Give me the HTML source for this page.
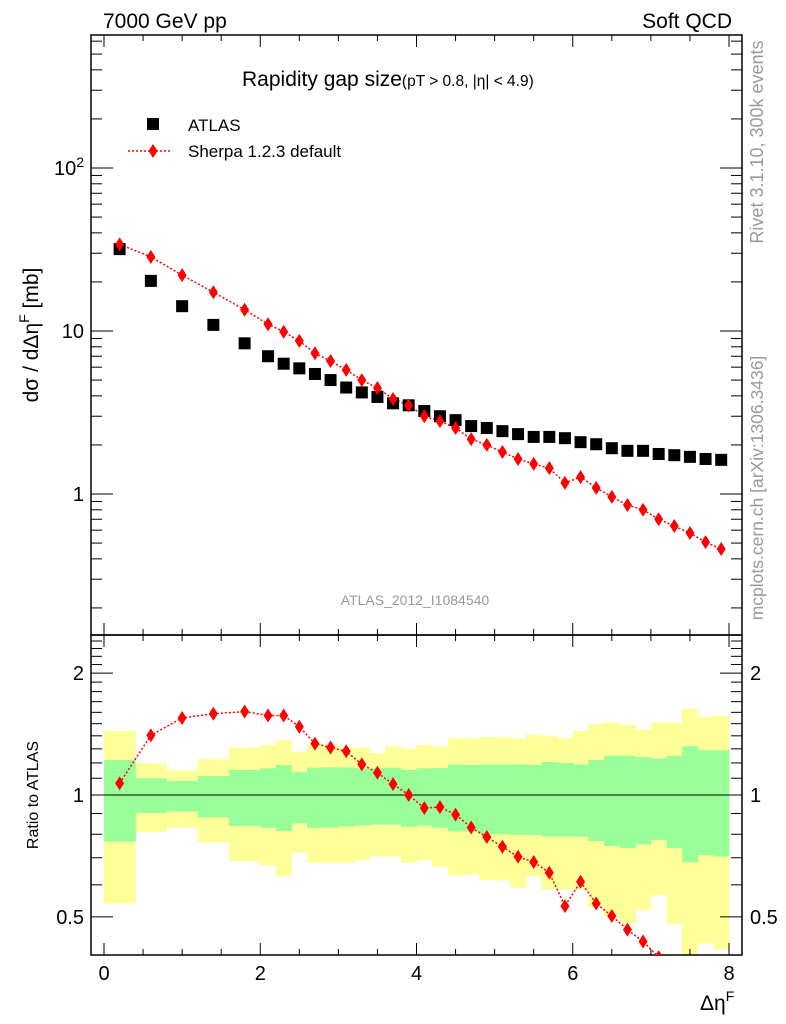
<!DOCTYPE html>
<html><head><meta charset="utf-8"><style>
body{margin:0;background:#fff;}
svg{display:block;font-family:"Liberation Sans",sans-serif;}
</style></head><body>
<svg id="c" width="786" height="1024" viewBox="0 0 786 1024"></svg>
<script>
const binEdges=[0,0.4,0.8,1.2,1.6,2.0,2.2,2.4,2.6,2.8,3.0,3.2,3.4,3.6,3.8,4.0,4.2,4.4,4.6,4.8,5.0,5.2,5.4,5.6,5.8,6.0,6.2,6.4,6.6,6.8,7.0,7.2,7.4,7.6,7.8,8.0];
const atlasVals=[31.8,20.3,14.2,10.9,8.4,7.0,6.3,5.9,5.45,5.0,4.5,4.2,3.94,3.6,3.5,3.23,3.0,2.84,2.61,2.54,2.43,2.33,2.24,2.24,2.2,2.08,2.02,1.91,1.84,1.84,1.76,1.73,1.69,1.64,1.62];
const sherpaVals=[34,28.5,22,17.3,13.5,11,9.9,8.7,7.3,6.55,5.77,5.0,4.47,3.83,3.5,3.0,2.8,2.54,2.17,2.0,1.81,1.64,1.53,1.44,1.17,1.27,1.09,0.96,0.856,0.8,0.70,0.636,0.576,0.507,0.46];
const greenUp=[1.22,1.10,1.083,1.114,1.153,1.164,1.186,1.14,1.168,1.17,1.17,1.164,1.164,1.168,1.153,1.164,1.166,1.19,1.186,1.19,1.19,1.19,1.186,1.206,1.2,1.19,1.22,1.25,1.25,1.24,1.23,1.25,1.32,1.29,1.29];
const greenDn=[0.767,0.903,0.91,0.88,0.838,0.83,0.815,0.851,0.83,0.83,0.835,0.84,0.845,0.845,0.835,0.84,0.83,0.813,0.812,0.80,0.80,0.797,0.797,0.789,0.789,0.789,0.77,0.748,0.74,0.755,0.775,0.74,0.682,0.71,0.705];
const yellowUp=[1.439,1.197,1.15,1.227,1.31,1.33,1.367,1.28,1.34,1.33,1.31,1.31,1.27,1.32,1.30,1.33,1.32,1.383,1.38,1.39,1.39,1.38,1.41,1.40,1.38,1.44,1.497,1.51,1.49,1.45,1.51,1.51,1.633,1.56,1.57];
const yellowDn=[0.54,0.81,0.83,0.763,0.686,0.67,0.632,0.72,0.68,0.68,0.68,0.69,0.705,0.705,0.68,0.69,0.665,0.632,0.636,0.617,0.615,0.59,0.63,0.585,0.585,0.585,0.528,0.5,0.48,0.52,0.565,0.48,0.3,0.43,0.415];

const NS="http://www.w3.org/2000/svg";
const svg=document.getElementById('c');
function el(tag,attrs,parent){const e=document.createElementNS(NS,tag);for(const k in attrs)e.setAttribute(k,attrs[k]);(parent||svg).appendChild(e);return e;}
const L=91,R=742,T=35,MB=635,RT=635,RB=955;
const X=v=>104+v*(729-104)/8;
const YM=v=>494-163*Math.log10(v);
const YR=v=>795-405*Math.log10(v);
const cx=i=>(binEdges[i]+binEdges[i+1])/2;

const gBand=el('g',{});


const clip=el('clipPath',{id:'rc'});el('rect',{x:L,y:RT,width:R-L,height:RB-RT},clip);
gBand.setAttribute('clip-path','url(#rc)');
for(let i=0;i<atlasVals.length;i++){
  const x0=X(binEdges[i]),x1=X(binEdges[i+1]);
  const y=el('rect',{x:x0,y:YR(yellowUp[i]),width:x1-x0+0.5,height:YR(yellowDn[i])-YR(yellowUp[i]),fill:'#ffff99'},gBand);
  
  
}
for(let i=0;i<atlasVals.length;i++){
  const x0=X(binEdges[i]),x1=X(binEdges[i+1]);
  const g=el('rect',{x:x0,y:YR(greenUp[i]),width:x1-x0+0.5,height:YR(greenDn[i])-YR(greenUp[i]),fill:'#99ff99'},gBand);
  
  
}
const one=el('line',{x1:L,x2:R,y1:YR(1),y2:YR(1),stroke:'#000','stroke-width':1});



const f1=el('rect',{x:L,y:T,width:R-L,height:MB-T,fill:'none',stroke:'#000','stroke-width':1.5});


const f2=el('rect',{x:L,y:RT,width:R-L,height:RB-RT,fill:'none',stroke:'#000','stroke-width':1.5});



for(let v=0;v<=8.001;v+=0.5){
  const maj=Math.abs(v-Math.round(v/2)*2)<1e-6, len=maj?12:6, x=X(v);
  [[T,1],[MB,-1],[RT,1],[RB,-1]].forEach(([y,d])=>el('line',{x1:x,x2:x,y1:y,y2:y+d*len,stroke:'#000'}));
  if(maj){const t=el('text',{x:x,y:980,'font-size':20,'text-anchor':'middle'});t.textContent=String(v);
    
    }
}
for(let d=-1;d<=2;d++)for(let m=1;m<=9;m++){
  const v=m*Math.pow(10,d);const y=YM(v);if(y<T||y>MB)continue;
  const len=m==1?22:11;
  el('line',{x1:L,x2:L+len,y1:y,y2:y,stroke:'#000'});el('line',{x1:R,x2:R-len,y1:y,y2:y,stroke:'#000'});
}
[[1,'1'],[10,'10']].forEach(([v,s])=>{const t=el('text',{x:84,y:YM(v)+7,'font-size':20,'text-anchor':'end'});t.textContent=s;
  
  });
{const t=el('text',{x:84,y:YM(100)+7,'font-size':20,'text-anchor':'end'});t.innerHTML='10<tspan dy="-8" font-size="14">2</tspan>';
 
 }
const rT=[0.4,0.5,0.6,0.7,0.8,0.9,1,1.1,1.2,1.3,1.4,1.5,1.6,1.7,1.8,1.9,2,2.1,2.2,2.3,2.4];
rT.forEach(v=>{const y=YR(v);if(y<RT||y>RB)return;const len=(v==0.5||v==1||v==2)?22:11;
  el('line',{x1:L,x2:L+len,y1:y,y2:y,stroke:'#000'});el('line',{x1:R,x2:R-len,y1:y,y2:y,stroke:'#000'});});
[[2,'2'],[1,'1'],[0.5,'0.5']].forEach(([v,s])=>{
  const a=el('text',{x:84,y:YR(v)+7,'font-size':20,'text-anchor':'end'});a.textContent=s;
  
  
  const b=el('text',{x:750,y:YR(v)+7,'font-size':20});b.textContent=s;
  
  
});

function diamond(x,y,p){return el('polygon',{points:`${x},${y-7} ${x+4.5},${y} ${x},${y+7} ${x-4.5},${y}`,fill:'#ff0000'},p);}
const sp=sherpaVals.map((v,i)=>X(cx(i))+','+YM(v)).join(' ');
const sl=el('polyline',{points:sp,fill:'none',stroke:'#ff0000','stroke-width':1.5,'stroke-dasharray':'2,2'});


atlasVals.forEach((v,i)=>{const r=el('rect',{x:X(cx(i))-6,y:YM(v)-6,width:12,height:12,fill:'#000'});
  
  });
sherpaVals.forEach((v,i)=>{const d=diamond(X(cx(i)),YM(v));
  
  });
const gr=el('g',{'clip-path':'url(#rc)'});


const rp=sherpaVals.map((v,i)=>X(cx(i))+','+YR(v/atlasVals[i])).join(' ');
el('polyline',{points:rp,fill:'none',stroke:'#ff0000','stroke-width':1.5,'stroke-dasharray':'2,2'},gr);
sherpaVals.forEach((v,i)=>{const d=diamond(X(cx(i)),YR(v/atlasVals[i]),gr);
  
  });
</script>
<div style="position:absolute;left:0;top:0;width:786px;height:1024px;pointer-events:none;font-family:'Liberation Sans',sans-serif;">
<svg width="786" height="1024" style="position:absolute;left:0;top:0">
<text x="103" y="28" font-size="21">7000 GeV pp</text>
<text x="732" y="28" font-size="21" text-anchor="end">Soft QCD</text>
<text x="242" y="86" font-size="21">Rapidity gap size<tspan font-size="15.5">(pT &gt; 0.8, |η| &lt; 4.9)</tspan></text>
<rect x="147" y="118" width="12" height="12" fill="#000"/>
<text x="188" y="131" font-size="17">ATLAS</text>
<line x1="128" x2="172" y1="151" y2="151" stroke="#f00" stroke-width="1.5" stroke-dasharray="2,2"/>
<polygon points="153,144 157.5,151 153,158 148.5,151" fill="#f00"/>
<text x="188" y="157" font-size="17">Sherpa 1.2.3 default</text>
<text transform="translate(38,335) rotate(-90)" font-size="21" text-anchor="middle">dσ / dΔη<tspan dy="-9" font-size="14">F</tspan><tspan dy="9"> [mb]</tspan></text>
<text transform="translate(38,795) rotate(-90)" font-size="16" text-anchor="middle">Ratio to ATLAS</text>
<text x="700" y="1010" font-size="21">Δη<tspan dy="-9" font-size="14">F</tspan></text>
<text x="415" y="605" font-size="14" fill="#999" text-anchor="middle">ATLAS_2012_I1084540</text>
<text transform="translate(763,142) rotate(-90)" font-size="18" fill="#999" text-anchor="middle">Rivet 3.1.10,  300k events</text>
<text transform="translate(763,488) rotate(-90)" font-size="17.5" fill="#999" text-anchor="middle">mcplots.cern.ch [arXiv:1306.3436]</text>
</svg></div>
</body></html>
